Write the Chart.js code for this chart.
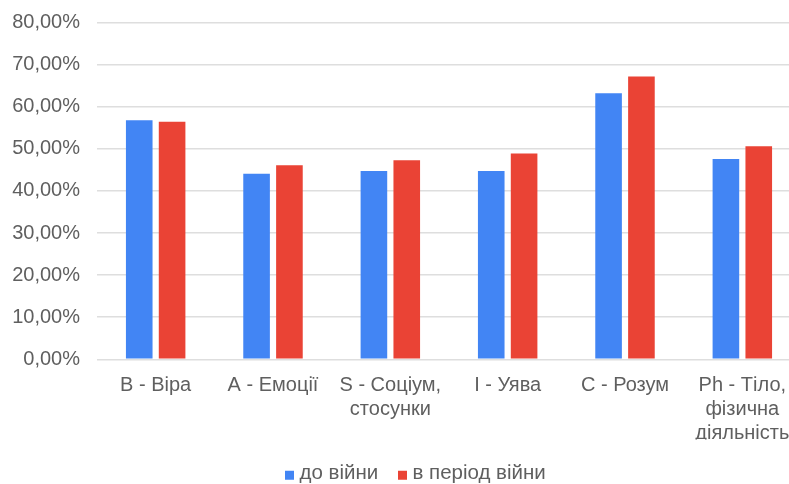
<!DOCTYPE html>
<html>
<head>
<meta charset="utf-8">
<script src="https://cdn.jsdelivr.net/npm/chart.js@4"></script>
<style>
html,body{margin:0;padding:0;background:#fff;overflow:hidden;width:789px;height:484px;}
#wrap{position:absolute;left:0;top:0;width:835px;height:494px;}
</style>
</head>
<body>
<div id="wrap"><canvas id="c" width="835" height="494"></canvas></div>
<script>
const categories = [
  ["B - Віра"],
  ["A - Емоції"],
  ["S - Соціум,", "стосунки"],
  ["I - Уява"],
  ["C - Розум"],
  ["Ph - Тіло,", "фізична", "діяльність"]
];
const seriesNames = ["до війни", "в період війни"];
const beforeWar = [56.8, 44.1, 44.7, 44.7, 63.2, 47.6];
const duringWar = [56.4, 46.1, 47.3, 48.9, 67.2, 50.6];
const yTicks = [0, 10, 20, 30, 40, 50, 60, 70, 80];
const seriesColors = ['#4285F4', '#EA4335'];

const FONT = "'Liberation Sans', Arial, sans-serif";
const TEXT = "#5f5f5f";

// legend marker: square aligned with the x-height band of the text
function markerImage(color){
  const cv = document.createElement('canvas');
  cv.width = 9; cv.height = 26;
  const g = cv.getContext('2d');
  g.fillStyle = color;
  g.fillRect(0, 10, 9, 9);
  return cv;
}
const markers = seriesColors.map(markerImage);

new Chart(document.getElementById('c'), {
  type: 'bar',
  data: {
    labels: categories,
    datasets: [
      {label: seriesNames[0], data: beforeWar, backgroundColor: seriesColors[0], categoryPercentage: 0.56, barPercentage: 0.81},
      {label: seriesNames[1], data: duringWar, backgroundColor: seriesColors[1], categoryPercentage: 0.56, barPercentage: 0.81}
    ]
  },
  options: {
    responsive: false,
    animation: false,
    devicePixelRatio: 1,
    layout: {padding: {top: 22.5, right: 0, left: 0, bottom: 0}},
    plugins: {
      legend: {
        position: 'bottom',
        labels: {
          font: {family: FONT, size: 20.5},
          color: TEXT,
          usePointStyle: true,
          pointStyleWidth: 0.001,
          padding: 24,
          generateLabels(chart){
            const items = Chart.defaults.plugins.legend.labels.generateLabels(chart);
            items.forEach((it, i) => { it.pointStyle = markers[i]; });
            return items;
          }
        }
      },
      tooltip: {enabled: false}
    },
    scales: {
      x: {
        grid: {display: false, drawTicks: false},
        border: {display: false},
        afterFit(scale){ scale.height = 80.2; scale.paddingLeft = 0; scale.paddingRight = 0; },
        ticks: {
          font: {family: FONT, size: 20, lineHeight: 1.2},
          color: TEXT,
          padding: 14,
          maxRotation: 0,
          autoSkip: false
        }
      },
      y: {
        min: 0, max: 80,
        afterFit(scale){ scale.width = 97; scale.paddingTop = 0; scale.paddingBottom = 0; },
        afterBuildTicks(scale){ scale.ticks = yTicks.map(v => ({value: v})); },
        grid: {color: '#dedede', lineWidth: 1.5, drawTicks: false},
        border: {display: false},
        ticks: {
          font: {family: FONT, size: 20},
          color: TEXT,
          padding: 17,
          callback: v => v.toFixed(2).replace('.', ',') + '%'
        }
      },
      yRight: {
        position: 'right',
        display: true,
        grid: {display: false, drawTicks: false},
        border: {display: false},
        ticks: {display: false},
        afterFit(scale){ scale.width = 34; scale.paddingTop = 0; scale.paddingBottom = 0; }
      }
    }
  }
});
</script>
</body>
</html>
